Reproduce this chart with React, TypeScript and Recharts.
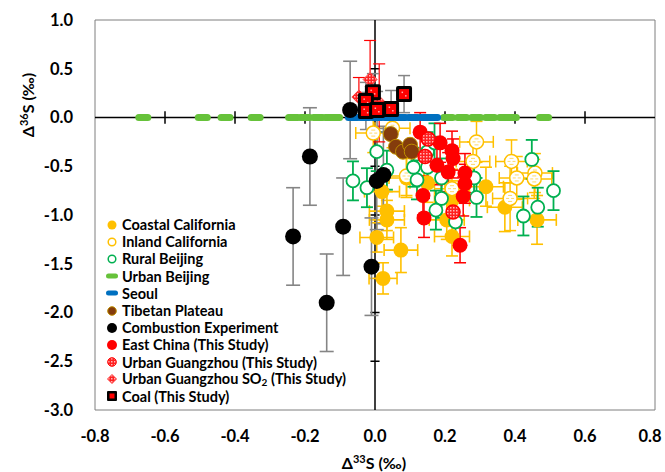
import React from "react";
import {
  ScatterChart,
  Scatter,
  XAxis,
  YAxis,
  ErrorBar,
  ReferenceLine,
  ReferenceArea,
  Legend
} from "recharts";

// [x, y, xErr, yErr]
type Pt = [number, number, number, number];

const xTicks = [-0.8, -0.6, -0.4, -0.2, 0, 0.2, 0.4, 0.6, 0.8];
const yTicks = [1, 0.5, 0, -0.5, -1, -1.5, -2, -2.5, -3];
const xAxisMinor = [-0.6, -0.4, -0.2, 0.2, 0.4, 0.6];
const yAxisMinor = [0.5, -0.5, -1, -1.5, -2, -2.5];

const coastalCA: Pt[] = [
  [0.02, -0.76, 0.05, 0.15],
  [0.034, -0.96, 0.05, 0.2],
  [0.034, -1.05, 0.05, 0.2],
  [0.005, -1.23, 0.048, 0.15],
  [0.074, -1.36, 0.048, 0.23],
  [0.023, -1.65, 0.04, 0.16],
  [0.15, -0.67, 0.05, 0.2],
  [0.09, -0.62, 0.05, 0.2],
  [0.205, -1.05, 0.05, 0.2],
  [0.22, -1.22, 0.05, 0.2],
  [0.22, -0.85, 0.05, 0.2],
  [0.317, -0.71, 0.05, 0.2],
  [0.371, -0.92, 0.05, 0.25],
  [0.463, -1.05, 0.055, 0.25]
];

const inlandCA: Pt[] = [
  [-0.005, -0.16, 0.05, 0.2],
  [0.05, -0.11, 0.05, 0.2],
  [0.29, -0.25, 0.048, 0.21],
  [0.28, -0.45, 0.048, 0.2],
  [0.39, -0.45, 0.045, 0.22],
  [0.405, -0.62, 0.05, 0.22],
  [0.457, -0.57, 0.05, 0.2],
  [0.455, -0.63, 0.05, 0.2],
  [0.386, -0.83, 0.05, 0.33],
  [0.22, -0.73, 0.05, 0.2],
  [0.09, -0.6, 0.05, 0.2]
];

const ruralBJ: Pt[] = [
  [0.005, -0.35, 0, 0.2],
  [-0.063, -0.65, 0, 0.2],
  [-0.023, -0.72, 0, 0.2],
  [0.034, -0.54, 0, 0.2],
  [0.12, -0.64, 0, 0.2],
  [0.11, -0.51, 0, 0.2],
  [0.15, -0.51, 0, 0.2],
  [0.19, -0.62, 0, 0.2],
  [0.19, -0.83, 0, 0.2],
  [0.174, -0.95, 0, 0.2],
  [0.23, -1.07, 0, 0.2],
  [0.15, -0.35, 0, 0.2],
  [0.17, -0.26, 0, 0.2],
  [0.29, -0.82, 0, 0.2],
  [0.283, -0.62, 0, 0.2],
  [0.424, -1.01, 0, 0.2],
  [0.448, -0.43, 0, 0.2],
  [0.465, -0.92, 0, 0.2],
  [0.51, -0.75, 0, 0.2]
];

const urbanBJx = [
  -0.662, -0.492, -0.427, -0.341, -0.234, -0.2, -0.163, -0.129, -0.114,
  0.209, 0.249, 0.289, 0.329, 0.369, 0.391, 0.483
];

const seoulX = [-0.063, -0.029, 0.006, 0.04, 0.074, 0.109, 0.143, 0.166];

const tibetan: Pt[] = [
  [0.045, -0.17, 0, 0],
  [0.06, -0.3, 0, 0],
  [0.08, -0.35, 0, 0],
  [0.1, -0.28, 0, 0],
  [0.105, -0.35, 0, 0]
];

const combustion: Pt[] = [
  [-0.071, 0.077, 0, 0.5],
  [-0.186, -0.4, 0, 0.5],
  [-0.234, -1.22, 0, 0.5],
  [-0.091, -1.12, 0, 0.5],
  [-0.138, -1.9, 0, 0.5],
  [-0.01, -1.53, 0, 0.5],
  [0.005, -0.65, 0, 0.5],
  [0.024, -0.59, 0, 0.5]
];

const eastChina: Pt[] = [
  [0.129, -0.15, 0, 0.2],
  [0.186, -0.26, 0, 0.2],
  [0.22, -0.34, 0, 0.2],
  [0.223, -0.42, 0, 0.2],
  [0.177, -0.49, 0, 0.2],
  [0.209, -0.56, 0, 0.2],
  [0.257, -0.57, 0, 0.2],
  [0.257, -0.68, 0, 0.2],
  [0.252, -0.81, 0, 0.2],
  [0.137, -0.8, 0, 0.2],
  [0.14, -1.03, 0, 0.2],
  [0.243, -1.31, 0, 0.18]
];

const urbanGZ: Pt[] = [
  [0.152, -0.22, 0, 0],
  [0.143, -0.4, 0, 0],
  [0.223, -0.97, 0, 0]
];

const gzSO2: Pt[] = [
  [-0.014, 0.39, 0, 0.4],
  [-0.046, 0.21, 0, 0.2],
  [0.012, 0.15, 0, 0.4]
];

const coal: Pt[] = [
  [-0.006, 0.26, 0, 0.19],
  [-0.026, 0.17, 0, 0.19],
  [-0.026, 0.067, 0, 0.19],
  [0.006, 0.077, 0, 0.19],
  [0.046, 0.087, 0, 0.19],
  [0.083, 0.24, 0, 0.19]
];

const legendLabels = [
  "Coastal California",
  "Inland California",
  "Rural Beijing",
  "Urban Beijing",
  "Seoul",
  "Tibetan Plateau",
  "Combustion Experiment",
  "East China (This Study)",
  "Urban Guangzhou (This Study)",
  "Urban Guangzhou SO2 (This Study)",
  "Coal (This Study)"
];

const FONT = "Lato, 'Open Sans', sans-serif";
const ORANGE = "#FFC000";
const GREEN = "#00B050";
const LIGHT_GREEN = "#66C23A";
const BLUE = "#0070C0";
const BROWN = "#843C0C";
const RED = "#FF0000";
const GRAY = "#858585";

const rows = (pts: Pt[]) => pts.map(([x, y, ex, ey]) => ({ x, y, ex, ey }));
const onZero = (xs: number[]) => xs.map((x) => ({ x, y: 0 }));

const Hatch = () => (
  <defs>
    <pattern id="redHatch" width="3" height="3" patternUnits="userSpaceOnUse">
      <rect width="3" height="3" fill="#FF2020" />
      <rect width="1.5" height="1.5" fill="#FFB8B8" />
    </pattern>
  </defs>
);

const dot = (fill: string, stroke: string, r: number, sw: number) => (p: any) =>
  <circle cx={p.cx} cy={p.cy} r={r} fill={fill} stroke={stroke} strokeWidth={sw} />;

const inlandShape = (p: any) => (
  <g>
    <circle cx={p.cx} cy={p.cy} r={7} fill="#fff" stroke={ORANGE} strokeWidth={1.5} />
    <path
      d={`M${p.cx - 2},${p.cy - 3}h4M${p.cx - 4},${p.cy}h3M${p.cx + 1},${p.cy}h3M${p.cx - 2},${p.cy + 3}h4`}
      stroke="#FFD966"
      strokeWidth={1}
    />
  </g>
);

const dash = (fill: string) => (p: any) =>
  <rect x={p.cx - 8} y={p.cy - 3.5} width={16} height={7} rx={3.5} fill={fill} />;

const gzShape = (p: any) => (
  <g>
    <Hatch />
    <circle cx={p.cx} cy={p.cy} r={7} fill="url(#redHatch)" stroke={RED} strokeWidth={1.5} />
  </g>
);

const diamondShape = (p: any) => (
  <g>
    <Hatch />
    <path
      d={`M${p.cx},${p.cy - 7}L${p.cx + 7},${p.cy}L${p.cx},${p.cy + 7}L${p.cx - 7},${p.cy}Z`}
      fill="url(#redHatch)"
      stroke="#FF4040"
      strokeWidth={1}
    />
  </g>
);

const coalShape = (p: any) => (
  <g>
    <rect x={p.cx - 8} y={p.cy - 8} width={16} height={16} rx={2} fill="#000" />
    <rect x={p.cx - 5} y={p.cy - 5} width={10} height={10} fill={RED} />
    <rect x={p.cx - 2.5} y={p.cy - 2.5} width={1.5} height={1.5} fill="#FFB0B0" />
    <rect x={p.cx + 1} y={p.cy + 1} width={1.5} height={1.5} fill="#FFB0B0" />
  </g>
);

const legendIcons = [
  <circle cx={7} cy={7} r={4.5} fill={ORANGE} />,
  <circle cx={7} cy={7} r={3.8} fill="#fff" stroke={ORANGE} strokeWidth={1.5} />,
  <circle cx={7} cy={7} r={3.8} fill="#fff" stroke={GREEN} strokeWidth={1.5} />,
  <rect x={1} y={4.5} width={12} height={5} rx={2.5} fill={LIGHT_GREEN} />,
  <rect x={1} y={4.5} width={12} height={5} rx={2.5} fill={BLUE} />,
  <circle cx={7} cy={7} r={4.3} fill={BROWN} stroke="#BF8F00" strokeWidth={1} />,
  <circle cx={7} cy={7} r={5} fill="#000" />,
  <circle cx={7} cy={7} r={5} fill={RED} />,
  <circle cx={7} cy={7} r={4.3} fill="url(#redHatch)" stroke={RED} strokeWidth={1} />,
  <path d="M7,2.5L11.5,7L7,11.5L2.5,7Z" fill="url(#redHatch)" stroke="#FF4040" strokeWidth={1} />,
  <g>
    <rect x={2} y={2} width={10} height={10} rx={1} fill="#000" />
    <rect x={4.5} y={4.5} width={5} height={5} fill={RED} />
  </g>
];

const renderLegend = () => (
  <div style={{ fontFamily: FONT, fontWeight: 700, fontSize: 14.5, color: "#000" }}>
    {legendLabels.map((label, i) => (
      <div key={label} style={{ display: "flex", alignItems: "center", height: 17.2, whiteSpace: "nowrap" }}>
        <svg width={14} height={14} style={{ marginRight: 3 }}>
          <Hatch />
          {legendIcons[i]}
        </svg>
        <span>
          {label.includes("SO2") ? (
            <>
              Urban Guangzhou SO<sub style={{ fontSize: 10, verticalAlign: "-2px" }}>2</sub> (This Study)
            </>
          ) : (
            label
          )}
        </span>
      </div>
    ))}
  </div>
);

const XTitle = () => (
  <text x={374} y={469} textAnchor="middle" fontFamily={FONT} fontWeight={700} fontSize={16} fill="#000">
    Δ<tspan dy={-6} fontSize={11}>33</tspan>
    <tspan dy={6}>S (‰)</tspan>
  </text>
);

const YTitle = () => (
  <text
    x={34}
    y={105}
    transform="rotate(-90 34 105)"
    textAnchor="middle"
    fontFamily={FONT}
    fontWeight={700}
    fontSize={16}
    fill="#000"
  >
    Δ<tspan dy={-6} fontSize={11}>36</tspan>
    <tspan dy={6}>S (‰)</tspan>
  </text>
);

const tickStyle = { fill: "#000", fontSize: 16.5, fontWeight: 700, fontFamily: FONT };

// keeps the last x label inside the 665px frame
const XTick = (p: any) => (
  <text
    x={Math.min(p.x, 650)}
    y={p.y}
    dy="0.71em"
    textAnchor="middle"
    fill="#000"
    fontSize={16.5}
    fontWeight={700}
    fontFamily={FONT}
  >
    {Number(p.payload.value).toFixed(1)}
  </text>
);

export default function App() {
  return (
    <div style={{ position: "absolute", left: 0, top: 0, width: 665, height: 472, background: "#fff", fontFamily: FONT }}>
      <ScatterChart width={665} height={472} margin={{ top: 20, right: 10, bottom: 0, left: 0 }}>
        <ReferenceArea x1={-0.8} x2={0.8} y1={-3} y2={1} fill="none" stroke="#7F7F7F" strokeWidth={1} />
        <XAxis
          type="number"
          dataKey="x"
          domain={[-0.8, 0.8]}
          ticks={xTicks}
          axisLine={false}
          tickLine={false}
          tickSize={0}
          tickMargin={20}
          height={62}
          tick={XTick}
          interval={0}
          label={XTitle}
        />
        <YAxis
          type="number"
          dataKey="y"
          domain={[-3, 1]}
          ticks={yTicks}
          tickFormatter={(v: number) => v.toFixed(1)}
          axisLine={false}
          tickLine={false}
          tickSize={0}
          tickMargin={22}
          width={95}
          tick={tickStyle}
          interval={0}
          label={YTitle}
        />
        <ReferenceLine x={0} stroke="#000" strokeWidth={1.5} />
        <ReferenceLine y={0} stroke="#000" strokeWidth={1.5} />
        {xAxisMinor.map((v) => (
          <ReferenceLine key={"xt" + v} segment={[{ x: v, y: -0.065 }, { x: v, y: 0.065 }]} stroke="#000" strokeWidth={1.5} />
        ))}
        {yAxisMinor.map((v) => (
          <ReferenceLine key={"yt" + v} segment={[{ x: -0.013, y: v }, { x: 0.013, y: v }]} stroke="#000" strokeWidth={1.5} />
        ))}

        <Scatter name="Coastal California" data={rows(coastalCA)} shape={dot(ORANGE, "none", 7.5, 0)} isAnimationActive={false}>
          <ErrorBar dataKey="ex" direction="x" width={6} stroke={ORANGE} strokeWidth={1.6} isAnimationActive={false} />
          <ErrorBar dataKey="ey" direction="y" width={6} stroke={ORANGE} strokeWidth={1.6} isAnimationActive={false} />
        </Scatter>
        <Scatter name="Inland California" data={rows(inlandCA)} shape={inlandShape} isAnimationActive={false}>
          <ErrorBar dataKey="ex" direction="x" width={6} stroke={ORANGE} strokeWidth={1.5} isAnimationActive={false} />
          <ErrorBar dataKey="ey" direction="y" width={6} stroke={ORANGE} strokeWidth={1.5} isAnimationActive={false} />
        </Scatter>
        <Scatter name="Rural Beijing" data={rows(ruralBJ)} shape={dot("#fff", GREEN, 6.5, 1.8)} isAnimationActive={false}>
          <ErrorBar dataKey="ey" direction="y" width={6} stroke={GREEN} strokeWidth={1.8} isAnimationActive={false} />
        </Scatter>
        <Scatter name="Urban Beijing" data={onZero(urbanBJx)} shape={dash(LIGHT_GREEN)} isAnimationActive={false} />
        <Scatter name="Seoul" data={onZero(seoulX)} shape={dash(BLUE)} isAnimationActive={false} />
        <Scatter name="Tibetan Plateau" data={rows(tibetan)} shape={dot(BROWN, "#BF8F00", 7.5, 1)} isAnimationActive={false} />
        <Scatter name="Combustion Experiment" data={rows(combustion)} shape={dot("#000", "none", 8, 0)} isAnimationActive={false}>
          <ErrorBar dataKey="ey" direction="y" width={7} stroke={GRAY} strokeWidth={1.6} isAnimationActive={false} />
        </Scatter>
        <Scatter name="East China (This Study)" data={rows(eastChina)} shape={dot(RED, "none", 7.5, 0)} isAnimationActive={false}>
          <ErrorBar dataKey="ey" direction="y" width={6} stroke={RED} strokeWidth={1.5} isAnimationActive={false} />
        </Scatter>
        <Scatter name="Urban Guangzhou (This Study)" data={rows(urbanGZ)} shape={gzShape} isAnimationActive={false} />
        <Scatter name="Urban Guangzhou SO2 (This Study)" data={rows(gzSO2)} shape={diamondShape} isAnimationActive={false}>
          <ErrorBar dataKey="ey" direction="y" width={6} stroke={RED} strokeWidth={1.2} isAnimationActive={false} />
        </Scatter>
        <Scatter name="Coal (This Study)" data={rows(coal)} shape={coalShape} isAnimationActive={false}>
          <ErrorBar dataKey="ey" direction="y" width={6} stroke={GRAY} strokeWidth={1.5} isAnimationActive={false} />
        </Scatter>

        <Legend
          layout="vertical"
          align="center"
          verticalAlign="middle"
          content={renderLegend}
          wrapperStyle={{ left: 105, top: 216, width: 320, height: 190 }}
        />
      </ScatterChart>
    </div>
  );
}
